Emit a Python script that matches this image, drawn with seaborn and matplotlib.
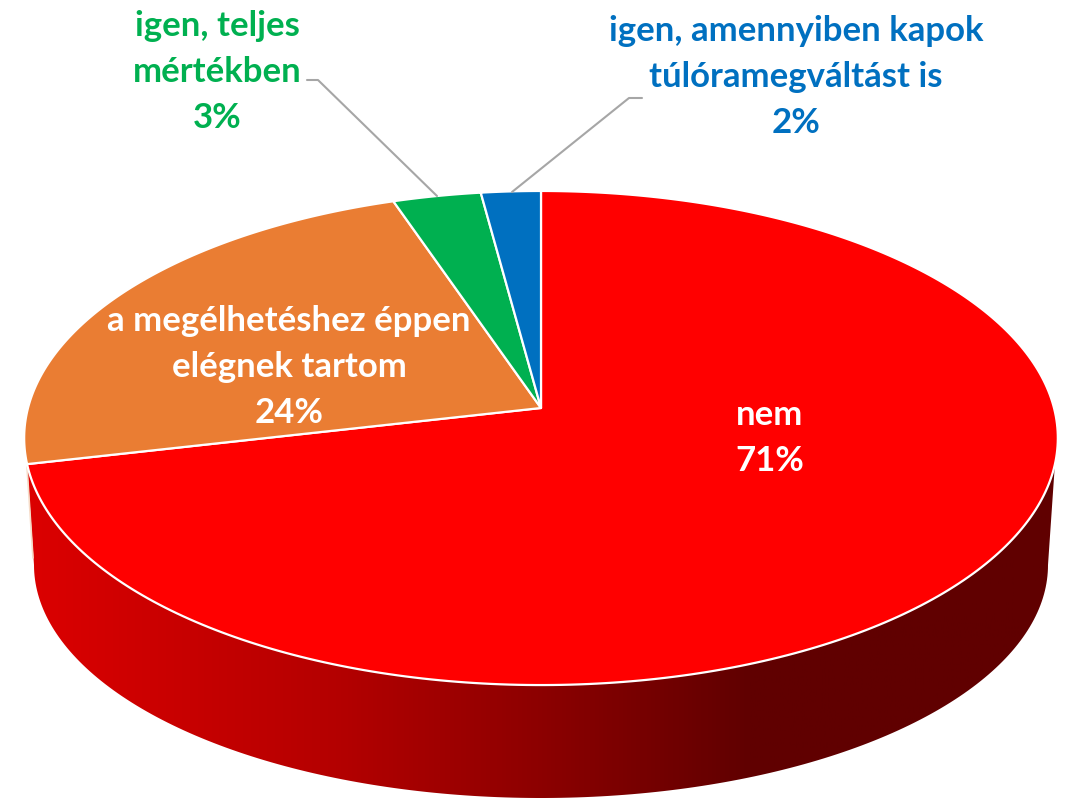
import matplotlib
matplotlib.use('Agg')
import matplotlib.pyplot as plt
import seaborn as sns
import numpy as np
from matplotlib.colors import LinearSegmentedColormap
from matplotlib.patches import Polygon

categories = ['nem', 'a megélhetéshez éppen\nelégnek tartom', 'igen, teljes\nmértékben',
              'igen, amennyiben kapok\ntúlóramegváltást is']
values = [71.4, 23.4, 3.1, 2.1]
labels_pct = ['71%', '24%', '3%', '2%']
colors = ['#ff0000', '#ea7d33', '#00b050', '#0070c0']
text_colors = ['white', 'white', '#00b050', '#0070c0']
text_pos = [(770, 438), (289, 367), (217, 72), (796, 77)]

# perspective of the top face, in image pixels
APEX_X, APEX_Y = 541, 408
A, B, P = 513, 243.4, 0.1215


def project(theta):
    """Angle clockwise from 12 o'clock (radians) to picture coordinates."""
    u, v = np.sin(theta), np.cos(theta)
    w = 1 + P * v
    return APEX_X + A * u / w, APEX_Y - B * v / w


sns.set_theme(style='white')
plt.rcParams['font.family'] = ['Lato', 'DejaVu Sans']
palette = sns.color_palette(colors)

fig = plt.figure(figsize=(10.71, 7.99), dpi=100)
ax = fig.add_axes([0, 0, 1, 1])
ax.set_xlim(0, 1071)
ax.set_ylim(799, 0)
ax.axis('off')

# side wall with its left to right shading
t = np.radians(np.linspace(103, 257, 200))
rim_x, rim_y = project(t)
phi = np.radians(np.linspace(180, 0, 200))
low_x = 541 + 507 * np.cos(phi)
low_y = 565 + 233 * np.sin(phi)
wall = Polygon(np.column_stack([np.r_[rim_x, low_x], np.r_[rim_y, low_y]]),
               closed=True, facecolor='none', edgecolor='none', transform=ax.transData)
ax.add_patch(wall)
wall_cmap = LinearSegmentedColormap.from_list(
    'wall', [(0, '#dc0000'), (0.3, '#b40000'), (0.5, '#8c0000'), (0.7, '#600000'), (1, '#600000')])
img = ax.imshow(np.linspace(0, 1, 512).reshape(1, -1), cmap=wall_cmap, aspect='auto',
                extent=(25, 1060, 799, 440), zorder=1)
img.set_clip_path(wall)
ax.set_xlim(0, 1071)
ax.set_ylim(799, 0)

# faint sliver of the orange wall on the far left
ax.plot([27, 33], [467, 558], color='#f6dcc8', lw=1.2, zorder=1)

# top face
edges = np.r_[0, np.cumsum(values)] / np.sum(values) * 2 * np.pi
for i in range(len(values)):
    arc = np.linspace(edges[i], edges[i + 1], 300)
    x, y = project(arc)
    ax.fill(np.r_[APEX_X, x], np.r_[APEX_Y, y], facecolor=palette[i], edgecolor='white',
            lw=1.6, joinstyle='round', zorder=2)

# leader lines for the two outside labels
ax.plot([307, 318, 437], [80, 80, 196], color='#a6a6a6', lw=1.5, zorder=3)
ax.plot([642, 629, 512], [98, 98, 192], color='#a6a6a6', lw=1.5, zorder=3)

for cat, pct, col, pos in zip(categories, labels_pct, text_colors, text_pos):
    ax.text(pos[0], pos[1], cat + '\n' + pct, color=col, fontsize=25, fontweight='bold',
            ha='center', va='center', linespacing=1.53, zorder=4)

fig.savefig('out.png', dpi=100)
plt.close(fig)
